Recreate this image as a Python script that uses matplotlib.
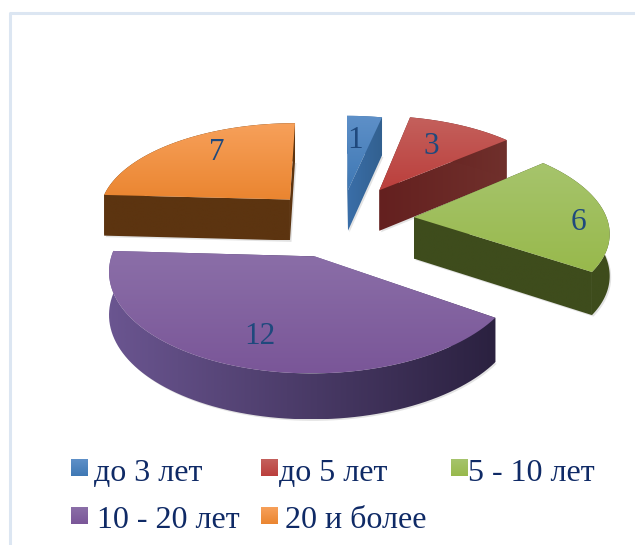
# 3D-look exploded pie, no 3D pie in matplotlib so project the slices by hand
import numpy as np
import matplotlib
matplotlib.use("Agg")
import matplotlib.pyplot as plt
from matplotlib.colors import LinearSegmentedColormap
from matplotlib.patches import Polygon

categories = ["до 3 лет", "до 5 лет", "5 - 10 лет", "10 - 20 лет", "20 и более"]
values = [1, 3, 6, 12, 7]

top_light = ["#5e90c8", "#c4605c", "#a6c46c", "#8b6fa8", "#f7a05a"]
top_dark = ["#3f78b4", "#bb3f3c", "#98b94c", "#7a5698", "#ea8530"]
wall_left = ["#3a6ea8", "#64201f", "#3e4c1c", "#6a5590", "#5c3410"]
wall_right = ["#32608f", "#70302c", "#3e4c1c", "#2b2140", "#5c3410"]
label_pos = [(355, 141), (431, 147), (578, 222), (260, 336), (217, 152)]

# how far each slice is pulled out of the pie
pull_x = [0.07, 0.24, 0.41, -0.10, -0.24]
pull_y = [0.33, 0.33, 0.02, -0.39, 0.22]

swatch_x = [71, 261, 451, 71, 261]
swatch_y = [459, 459, 459, 507, 507]
text_x = [94, 279, 468, 97, 285]
text_y = [481, 481, 481, 528, 528]

# projection settings, tuned by eye
cx, cy = 335, 219
scale_x, scale_y = 193, 91
persp = 0.13
depth = 41.5

plt.rcParams["font.family"] = ["Liberation Serif", "DejaVu Serif"]

fig = plt.figure(figsize=(6.35, 5.45), dpi=100)
ax = fig.add_axes([0, 0, 1, 1])
ax.set_xlim(0, 635)
ax.set_ylim(545, 0)
ax.axis("off")


def project(x, y):
    w = 1 + persp * y
    return cx + scale_x * x / w, cy - scale_y * y / w, depth / (1 + 0.07 * y)


def gradient_fill(verts, c1, c2, horizontal=False, z=1):
    # fill polygon with a linear gradient, using a clipped image
    verts = np.asarray(verts)
    x0, x1 = verts[:, 0].min(), verts[:, 0].max()
    y0, y1 = verts[:, 1].min(), verts[:, 1].max()
    cmap = LinearSegmentedColormap.from_list("g", [c1, c2])
    grad = np.linspace(0, 1, 128)
    grad = grad.reshape(1, -1) if horizontal else grad.reshape(-1, 1)
    im = ax.imshow(grad, cmap=cmap, extent=(x0, x1, y1, y0), aspect="auto", zorder=z,
                   interpolation="bilinear")
    patch = Polygon(verts, closed=True, transform=ax.transData, fc="none", ec="none")
    ax.add_patch(patch)
    im.set_clip_path(patch)


total = sum(values)
edges = np.cumsum([0] + values) / total * 2 * np.pi
# far slices first so the near ones cover them
order = [0, 1, 4, 2, 3]

for n, i in enumerate(order):
    a0, a1 = edges[i], edges[i + 1]
    ex, ey = pull_x[i], pull_y[i]
    t = np.linspace(a0, a1, 80)
    px, py, pd = project(ex + np.sin(t), ey + np.cos(t))
    ax0, ay0, ad0 = project(ex, ey)
    z = 2 + n * 3

    # soft shadow on the floor
    sx = np.r_[ax0, px, ax0]
    sy = np.r_[ay0 + ad0, py + pd, ay0 + ad0]
    ax.add_patch(Polygon(np.c_[sx + 1.5, sy + 1.5], fc="#c8c8c8", ec="none", alpha=0.5, zorder=z - 1))

    # side walls: two radial ones and the outer arc
    for k in (0, -1):
        wall = [(ax0, ay0), (px[k], py[k]), (px[k], py[k] + pd[k]), (ax0, ay0 + ad0)]
        gradient_fill(wall, wall_left[i], wall_right[i], horizontal=True, z=z)
    arc_wall = np.r_[np.c_[px, py], np.c_[px, py + pd][::-1]]
    gradient_fill(arc_wall, wall_left[i], wall_right[i], horizontal=True, z=z)

    # top face
    top = np.r_[[[ax0, ay0]], np.c_[px, py]]
    gradient_fill(top, top_light[i], top_dark[i], z=z + 1)

# value labels
for v, (lx, ly) in zip(values, label_pos):
    ax.text(lx, ly, str(v), color="#1f497d", fontsize=22.5, ha="center", va="center", zorder=30)

# legend
for i, name in enumerate(categories):
    x, y = swatch_x[i], swatch_y[i]
    box = [(x, y), (x + 17, y), (x + 17, y + 17), (x, y + 17)]
    gradient_fill(box, top_light[i], top_dark[i], z=30)
    ax.text(text_x[i], text_y[i], name, color="#0f2a66", fontsize=23, ha="left", va="baseline", zorder=30)

# pale frame round the chart
ax.plot([9.5, 9.5, 635], [545, 12.5, 12.5], color="#dce6f2", lw=2.2, zorder=0)

ax.set_xlim(0, 635)
ax.set_ylim(545, 0)
fig.savefig("out.png", dpi=100)
